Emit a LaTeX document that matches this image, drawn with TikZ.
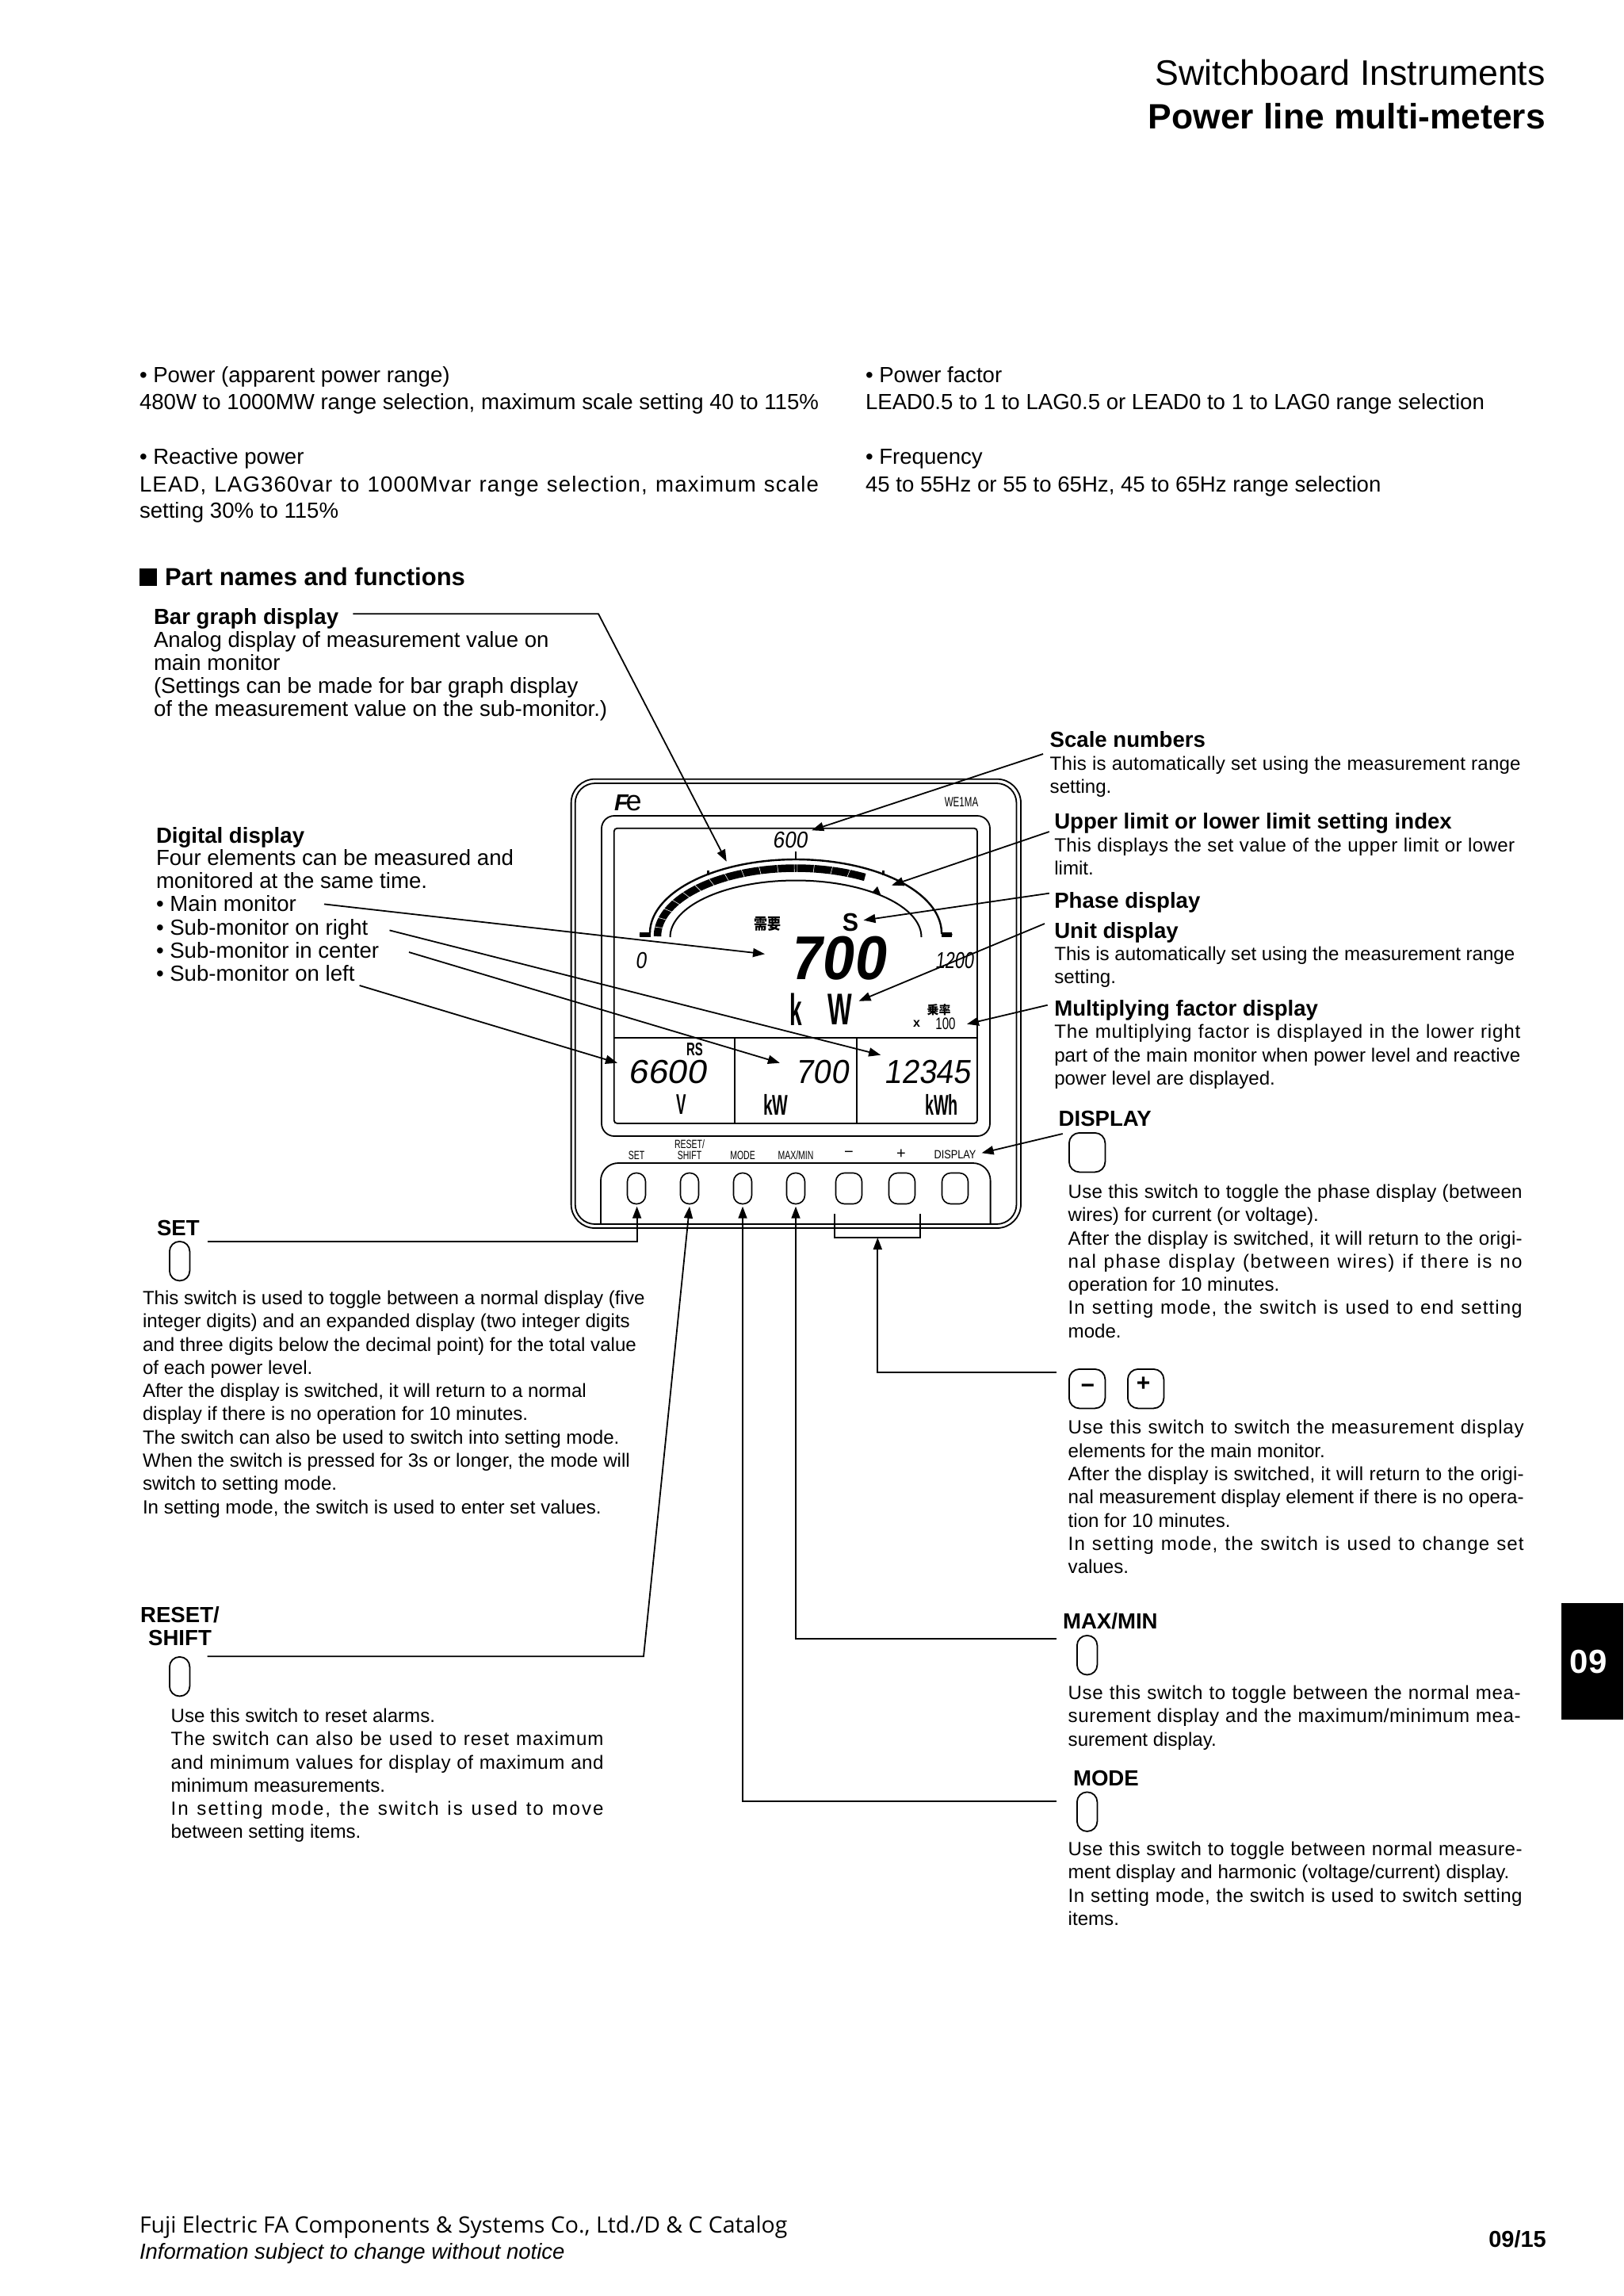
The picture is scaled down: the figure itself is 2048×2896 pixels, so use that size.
\documentclass[tikz,border=0pt]{standalone}
\usepackage{fontspec}
\usepackage{xstring}
\setmainfont{Liberation Sans}
\newfontfamily\cjk{Noto Sans CJK JP}
\newfontfamily\footf{Open Sans}
\newfontfamily\lcd[FakeSlant=0.16]{Liberation Sans}
\usetikzlibrary{arrows.meta}
\newcommand{\fs}[2]{\fontsize{#1}{#2}\selectfont}
\newlength\jl
\newlength\jem
\newcommand{\J}[2]{\settowidth{\jl}{#2}\setlength{\jem}{1em}\StrLen{#2}[\jn]\pgfmathsetmacro{\jls}{100*(#1-\jl)/\jn/\jem}\makebox[#1pt][s]{\addfontfeature{LetterSpace=\jls}#2}}
\tikzset{
 x=1pt,y=-1pt,
 lead/.style={line width=1.8pt,-{Triangle[length=15pt,width=11pt]}},
 bez/.style={line width=1.8pt},
 txt/.style={anchor=base west,inner sep=0pt,outer sep=0pt,align=left},
 mid/.style={anchor=center,inner sep=0pt,outer sep=0pt,align=center},
 body/.style={txt,font=\fs{24.1}{29.3}},
 para/.style={txt,font=\fs{27.6}{29.3}},
 top/.style={txt,font=\fs{27.6}{34}},
 head/.style={txt,font=\fs{27.6}{29.3}\bfseries,yshift=-1.5pt},
 small/.style={mid,font=\fs{15}{14}},
}
\begin{document}
\begin{tikzpicture}
\useasboundingbox (0,0) rectangle (2048,2896);
\fill[white] (0,0) rectangle (2048,2896);
% header
\node[anchor=base east,inner sep=0pt,font=\fs{44.7}{50}] (h1) at (1950,107) {Switchboard Instruments};
\node[anchor=base east,inner sep=0pt,font=\fs{44.4}{50}\bfseries] (h2) at (1950,162) {Power line multi-meters};
% intro
\node[top] (ta) at (176,482) {• Power (apparent power range)};
\node[top] (ta2) at (176,516) {480W to 1000MW range selection, maximum scale setting 40 to 115\%};
\node[top] (tb) at (176,585) {• Reactive power};
\node[top] (tc) at (176,620) {\J{857}{LEAD, LAG360var to 1000Mvar range selection, maximum scale}};
\node[top] (td) at (176,653) {setting 30\% to 115\%};
\node[top] (te) at (1092,482) {• Power factor};
\node[top] (tf) at (1092,516) {LEAD0.5 to 1 to LAG0.5 or LEAD0 to 1 to LAG0 range selection};
\node[top] (tg) at (1092,585) {• Frequency};
\node[top] (th) at (1092,620) {45 to 55Hz or 55 to 65Hz, 45 to 65Hz range selection};
% section
\node[fill=black,minimum width=22pt,minimum height=22pt,inner sep=0pt,anchor=north west] (sq) at (176,717) {};
\node[txt,font=\fs{31}{34}\bfseries] (sec) at (208,738) {Part names and functions};
% left callouts
\node[head] (bar) at (194,786) {Bar graph display};
\node[para,anchor=north west] (bart) at (194,796) {Analog display of measurement value on\\main monitor\\(Settings can be made for bar graph display\\of the measurement value on the sub-monitor.)};
\node[head] (dig) at (197,1062) {Digital display};
\node[para,anchor=north west] (digt) at (197,1071.3) {Four elements can be measured and\\monitored at the same time.\\• Main monitor\\• Sub-monitor on right\\• Sub-monitor in center\\• Sub-monitor on left};
\node[head] (setl) at (198,1557) {SET};
\node[body,anchor=north west] (sett) at (180,1628) {This switch is used to toggle between a normal display (five\\integer digits) and an expanded display (two integer digits\\and three digits below the decimal point) for the total value\\of each power level.\\After the display is switched, it will return to a normal\\display if there is no operation for 10 minutes.\\The switch can also be used to switch into setting mode.\\When the switch is pressed for 3s or longer, the mode will\\switch to setting mode.\\In setting mode, the switch is used to enter set values.};
\node[head,anchor=north,align=center] (resl) at (227,2025) {RESET/\\SHIFT};
\node[body,anchor=north west] (rest) at (215.6,2155) {Use this switch to reset alarms.\\\J{546}{The switch can also be used to reset maximum}\\\J{546}{and minimum values for display of maximum and}\\minimum measurements.\\\J{546}{In setting mode, the switch is used to move}\\between setting items.};
% right callouts
\node[head] (sca) at (1324.7,941) {Scale numbers};
\node[body,anchor=north west] (scat) at (1324.7,954) {\J{594}{This is automatically set using the measurement range}\\setting.};
\node[head] (upp) at (1330.3,1044) {Upper limit or lower limit setting index};
\node[body,anchor=north west] (uppt) at (1330.3,1057) {\J{581}{This displays the set value of the upper limit or lower}\\limit.};
\node[head] (pha) at (1330.3,1144) {Phase display};
\node[head] (uni) at (1330.3,1182) {Unit display};
\node[body,anchor=north west] (unit) at (1330.3,1194) {\J{581}{This is automatically set using the measurement range}\\setting.};
\node[head] (mul) at (1330.3,1280) {Multiplying factor display};
\node[body,anchor=north west] (mult) at (1330.3,1292.5) {\J{588}{The multiplying factor is displayed in the lower right}\\\J{588}{part of the main monitor when power level and reactive}\\power level are displayed.};
\node[head] (disl) at (1335.7,1419) {DISPLAY};
\node[body,anchor=north west] (dist) at (1347.7,1494) {\J{573}{Use this switch to toggle the phase display (between}\\wires) for current (or voltage).\\\J{573}{After the display is switched, it will return to the origi-}\\\J{573}{nal phase display (between wires) if there is no}\\operation for 10 minutes.\\\J{573}{In setting mode, the switch is used to end setting}\\mode.};
\node[body,anchor=north west] (pmt) at (1347.7,1791.5) {\J{575}{Use this switch to switch the measurement display}\\elements for the main monitor.\\\J{575}{After the display is switched, it will return to the origi-}\\\J{575}{nal measurement display element if there is no opera-}\\tion for 10 minutes.\\\J{575}{In setting mode, the switch is used to change set}\\values.};
\node[head] (maxl) at (1341,2053) {MAX/MIN};
\node[body,anchor=north west] (maxt) at (1347.7,2126) {\J{571}{Use this switch to toggle between the normal mea-}\\\J{571}{surement display and the maximum/minimum mea-}\\surement display.};
\node[head] (model) at (1354,2251) {MODE};
\node[body,anchor=north west] (modet) at (1347.7,2323) {\J{573}{Use this switch to toggle between normal measure-}\\ment display and harmonic (voltage/current) display.\\\J{573}{In setting mode, the switch is used to switch setting}\\items.};
% switch icons
\tikzset{pill/.style={draw,line width=1.8pt,rounded corners=12.5pt,inner sep=0pt,minimum width=25.5pt,minimum height=49.5pt,anchor=north west},
 wide/.style={draw,line width=1.8pt,rounded corners=13pt,inner sep=0pt,minimum width=45.5pt,minimum height=49.5pt,anchor=north west}}
\node[pill] (isw) at (213,1565) {};
\node[pill] (irs) at (213,2089) {};
\node[wide] (idi) at (1348,1428) {};
\node[wide] (imi) at (1348,1726) {};
\node[wide] (ipl) at (1422,1726) {};
\node[pill] (ima) at (1358,2062) {};
\node[pill] (imo) at (1358,2259.5) {};
\node[mid,font=\fs{30}{30}\bfseries] (mi) at (1372.4,1752) {−};
\node[mid,font=\fs{30}{30}\bfseries] (pl) at (1442.6,1746) {+};
% meter
\draw[bez,rounded corners=30pt] (720.6,982.7) rectangle (1288,1549);
\draw[bez,rounded corners=25pt] (725.7,988) rectangle (1282.5,1544);
\draw[bez,rounded corners=16pt] (759,1029) rectangle (1249,1433);
\draw[bez,rounded corners=4pt] (774.7,1044.7) rectangle (1233,1417);
\draw[bez] (774.7,1309) -- (1233,1309) (927,1309) -- (927,1417) (1081,1309) -- (1081,1417);
\draw[bez,rounded corners=22pt] (758,1544) -- (758,1467) -- (1249.6,1467) -- (1249.6,1544);
% arcs
\draw[line width=2.4pt] (806.8,1179) -- (820,1179) plot[domain=180:0,samples=90] ({1004+184*cos(\x)},{1177-93*sin(\x)}) -- (1201.4,1179);
\fill (806.8,1176) rectangle (820.6,1181.5);
\fill (1188.3,1176) rectangle (1201.4,1181.5);
\draw[line width=2pt] plot[domain=180:0,samples=90] ({1004+158.5*cos(\x)},{1182-71.5*sin(\x)});
\draw[line width=9.5pt] plot[domain=180:60,samples=60] ({1004+174.5*cos(\x)},{1181-86*sin(\x)});
\foreach \a in {172.5,165,157.5,150,142.5,135,127.5,120,112.5,105,97.5,90.6,89.4,82.5,75,67.5}{
 \draw[white,line width=.6pt] ({1004+169*cos(\a)},{1181-80.5*sin(\a)}) -- ({1004+180*cos(\a)},{1181-91.5*sin(\a)});
}
\fill (1002.5,1074) rectangle (1005,1084);
\fill (892,1098) rectangle (895,1104);
\fill (1112.5,1098) rectangle (1115.5,1104);
\fill (1107,1118) -- (1100,1126) -- (1111,1128) -- cycle;
% meter texts
\node[txt] (fe) at (775,1022) {{\fs{29}{29}\bfseries\itshape F}\kern-3pt{\fs{36}{36}e}};
\node[mid,xscale=.68,font=\fs{17}{17}] (mod) at (1213,1012) {WE1MA};
\node[mid,xscale=.9,font=\lcd\fs{29}{29}] (d600) at (996.5,1059.5) {600};
\node[mid,xscale=.85,font=\lcd\fs{29}{29}] (d0) at (808.5,1212) {0};
\node[mid,xscale=.75,font=\lcd\fs{29}{29}] (d1200) at (1204,1212) {1200};
\node[mid,xscale=.93,font=\lcd\fs{78}{78}\bfseries] (d700) at (1056,1208.5) {700};
\node[mid,xscale=.95,font=\fs{32}{32}\bfseries] (ds) at (1073,1163.5) {S};
\node[mid,xscale=1,yscale=1.15,font=\cjk\fs{17}{17}\bfseries] (juyo) at (968,1165) {需要};
\node[mid,xscale=.5,font=\fs{56}{56}\bfseries] (dk) at (1004,1273) {k};
\node[mid,xscale=.58,font=\fs{56}{56}\bfseries] (dw) at (1060,1273) {W};
\node[mid,font=\cjk\fs{15}{15}\bfseries] (jo) at (1184.5,1274) {乗率};
\node[mid,font=\fs{16}{16}\bfseries] (dx) at (1156.5,1291) {x};
\node[mid,xscale=.72,font=\fs{21}{21}] (d100) at (1193,1291.5) {100};
\node[mid,xscale=.65,font=\fs{23}{23}\bfseries] (drs) at (876.5,1323.5) {RS};
\node[mid,xscale=1.05,font=\lcd\fs{42}{42}] (d6600) at (842,1352) {6600};
\node[mid,xscale=.95,font=\lcd\fs{42}{42}] (d700b) at (1037,1352) {700};
\node[mid,xscale=.93,font=\lcd\fs{42}{42}] (d12345) at (1170,1352) {12345};
\node[mid,xscale=.52,font=\fs{36}{36}\bfseries] (dv) at (860,1393.5) {V};
\node[mid,xscale=.58,font=\fs{36}{36}\bfseries] (dkw) at (979,1393.5) {kW};
\node[mid,xscale=.55,font=\fs{36}{36}\bfseries] (dkwh) at (1188,1393.5) {kWh};
\node[small,xscale=.7] (lset) at (803,1457) {SET};
\node[small,xscale=.7] (lres) at (870,1450) {RESET/\\SHIFT};
\node[small,xscale=.7] (lmod) at (937,1457) {MODE};
\node[small,xscale=.7] (lmax) at (1004,1457) {MAX/MIN};
\node[small,font=\fs{20}{20}] (lmi) at (1071,1456) {−};
\node[small,font=\fs{20}{20}] (lpl) at (1137,1456) {+};
\node[small,xscale=.85] (ldi) at (1205,1456) {DISPLAY};
% meter buttons
\tikzset{bnar/.style={draw,line width=1.6pt,rounded corners=11pt,inner sep=0pt,minimum width=23pt,minimum height=39pt},
 bwid/.style={draw,line width=1.6pt,rounded corners=11pt,inner sep=0pt,minimum width=33pt,minimum height=39pt}}
\node[bnar] (b1) at (803,1499) {};
\node[bnar] (b2) at (870,1499) {};
\node[bnar] (b3) at (937,1499) {};
\node[bnar] (b4) at (1004,1499) {};
\node[bwid] (b5) at (1071,1499) {};
\node[bwid] (b6) at (1138,1499) {};
\node[bwid] (b7) at (1205,1499) {};
\draw[line width=1.4pt] (1053,1531) -- (1053,1561) -- (1161,1561) -- (1161,1531);
% leaders
\coordinate (ca) at (445.3,774.3); \coordinate (cb) at (755,774.3); \coordinate (tbar) at (916.7,1086.7);
\draw[lead] (ca) -- (cb) -- (tbar);
\coordinate (cc) at (1316,951); \coordinate (t600) at (1024.2,1047.3); \draw[lead] (cc) -- (t600);
\coordinate (cd) at (1323.8,1049); \coordinate (tup) at (1125,1116.7); \draw[lead] (cd) -- (tup);
\coordinate (ce) at (1323.8,1126.7); \coordinate (tph) at (1089.5,1160.7); \draw[lead] (ce) -- (tph);
\coordinate (cf) at (1318,1165); \coordinate (tun) at (1083.5,1262.7); \draw[lead] (cf) -- (tun);
\coordinate (cg) at (1321.7,1267.7); \coordinate (tmu) at (1220,1291.7); \draw[lead] (cg) -- (tmu);
\coordinate (ch) at (1340.7,1430); \coordinate (tdi) at (1238.6,1454.3); \draw[lead] (ch) -- (tdi);
\coordinate (ci) at (409,1140.4); \coordinate (tma) at (965,1203.3); \draw[lead] (ci) -- (tma);
\coordinate (cj) at (491.5,1173.4); \coordinate (tri) at (1111.2,1330.7); \draw[lead] (cj) -- (tri);
\coordinate (ck) at (516,1201); \coordinate (tce) at (983.9,1340.7); \draw[lead] (ck) -- (tce);
\coordinate (cl) at (453.6,1243); \coordinate (tle) at (779,1340.7); \draw[lead] (cl) -- (tle);
\coordinate (cm) at (261.6,1565.6); \coordinate (cmb) at (803.6,1565.6); \coordinate (tse) at (803.6,1521.7); \draw[lead] (cm) -- (cmb) -- (tse);
\coordinate (cn) at (261.6,2089.3); \coordinate (cnb) at (812,2089.3); \coordinate (trs) at (870,1521.7); \draw[lead] (cn) -- (cnb) -- (trs);
\coordinate (co) at (1332.5,2271.7); \coordinate (cob) at (937,2271.7); \coordinate (tmo) at (937,1521.7); \draw[lead] (co) -- (cob) -- (tmo);
\coordinate (cp) at (1332.5,2066.7); \coordinate (cpb) at (1004,2066.7); \coordinate (tmx) at (1004,1521.7); \draw[lead] (cp) -- (cpb) -- (tmx);
\coordinate (cq) at (1332.5,1731); \coordinate (cqb) at (1107.3,1731); \coordinate (tpm) at (1107.3,1561); \draw[lead] (cq) -- (cqb) -- (tpm);
% tab
\node[fill=black,minimum width=78pt,minimum height=147pt,inner sep=0pt,anchor=north west] (tab) at (1970,2022) {};
\node[mid,text=white,font=\fs{42}{42}\bfseries] (tabt) at (2004,2096) {09};
% footer
\node[txt,font=\footf\fs{28.45}{30}] (f1) at (176,2816) {Fuji Electric FA Components \& Systems Co., Ltd./D \& C Catalog};
\node[txt,font=\fs{27.5}{30}\itshape] (f2) at (176,2849.5) {Information subject to change without notice};
\node[anchor=base east,inner sep=0pt,font=\fs{29}{30}\bfseries] (f3) at (1951,2834) {09/15};
\end{tikzpicture}
\end{document}
